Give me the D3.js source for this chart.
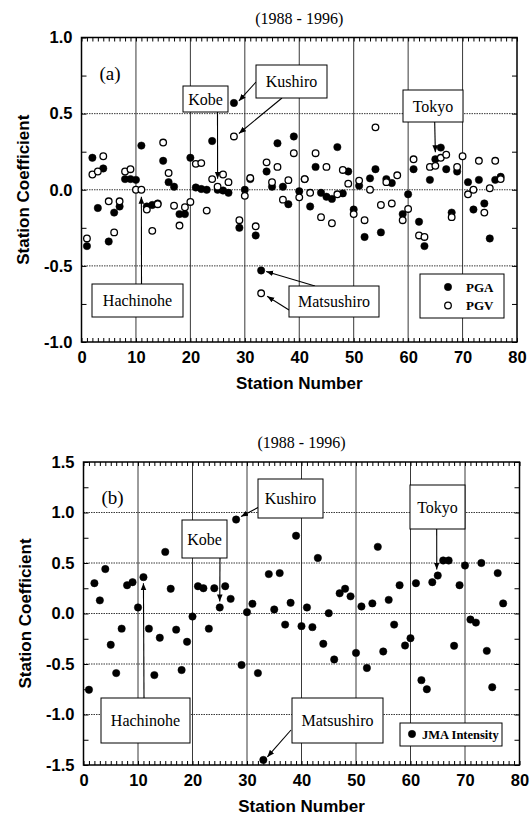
<!DOCTYPE html>
<html>
<head>
<meta charset="utf-8">
<script src="https://cdn.jsdelivr.net/npm/d3@7"></script>
<style>
  body { margin: 0; background: #fff; }
</style>
</head>
<body>
<svg id="chart" width="531" height="829"></svg>
<script>
// station numbers 1..77
const stations = d3.range(1, 78);

// panel (a) station coefficients
const pga = [-0.37, 0.21, -0.12, 0.14, -0.34, -0.15, -0.11, 0.07, 0.07, 0.065,
  0.29, -0.11, -0.10, -0.09, 0.19, 0.05, 0.02, -0.16, -0.16, 0.21,
  0.015, 0.005, 0.0, 0.32, 0.0, -0.005, -0.02, 0.57, -0.25, 0.0,
  0.07, -0.30, -0.53, 0.12, 0.02, 0.305, 0.02, -0.095, 0.35, -0.01,
  0.07, -0.11, 0.15, -0.02, -0.046, -0.06, 0.28, -0.024, 0.12, -0.13,
  0.026, -0.31, 0.075, 0.135, -0.28, 0.07, 0.044, null, -0.16, -0.03,
  0.135, -0.21, -0.37, 0.065, 0.20, 0.277, 0.135, -0.15, 0.12, null,
  0.05, -0.13, 0.065, -0.09, -0.32, 0.065, 0.085];

const pgv = [-0.32, 0.10, 0.12, 0.22, -0.076, -0.28, -0.076, 0.12, 0.135, 0.0,
  0.0, -0.13, -0.27, -0.095, 0.31, 0.11, -0.105, -0.235, -0.115, -0.08,
  0.17, 0.175, -0.137, 0.07, 0.02, 0.10, 0.05, 0.35, -0.20, -0.04,
  0.077, -0.24, -0.68, 0.18, 0.05, 0.15, -0.065, 0.063, 0.24, -0.05,
  0.07, -0.02, 0.24, -0.18, 0.15, -0.22, -0.03, 0.13, 0.04, -0.16,
  0.06, -0.20, 0.0, 0.41, -0.10, 0.05, -0.09, 0.095, -0.20, -0.126,
  0.20, -0.30, -0.31, 0.15, 0.157, 0.21, 0.23, -0.18, 0.15, 0.22,
  -0.03, 0.0, 0.19, -0.15, 0.01, 0.19, 0.07];

// panel (b) station coefficients
const jma = [-0.755, 0.30, 0.13, 0.44, -0.31, -0.59, -0.15, 0.28, 0.31, 0.06,
  0.36, -0.15, -0.61, -0.24, 0.61, 0.245, -0.16, -0.56, -0.28, -0.03,
  0.27, 0.25, -0.15, 0.25, 0.06, 0.27, 0.145, 0.93, -0.51, 0.013,
  0.096, -0.59, -1.45, 0.39, 0.04, 0.40, -0.11, 0.106, 0.77, -0.125,
  0.06, -0.135, 0.55, -0.30, 0.003, -0.455, 0.20, 0.245, 0.17, -0.39,
  0.07, -0.54, 0.10, 0.66, -0.376, 0.135, -0.11, 0.28, -0.317, -0.245,
  0.30, -0.66, -0.75, 0.31, 0.376, 0.525, 0.525, -0.32, 0.28, 0.475,
  -0.06, -0.09, 0.50, -0.37, -0.73, 0.40, 0.10];

const xTicks = [0, 10, 20, 30, 40, 50, 60, 70, 80];
const yTicksA = [-1.0, -0.5, 0.0, 0.5, 1.0];
const yTicksB = [-1.5, -1.0, -0.5, 0.0, 0.5, 1.0, 1.5];
const titleText = "(1988 - 1996)";

const svg = d3.select("#chart");
const sans = "'Liberation Sans', Arial, sans-serif";
const serif = "'Liberation Serif', 'Times New Roman', serif";

// arrowhead
svg.append("defs").append("marker")
  .attr("id", "arr")
  .attr("viewBox", "0 0 10 10")
  .attr("refX", 10).attr("refY", 5)
  .attr("markerWidth", 7).attr("markerHeight", 7)
  .attr("markerUnits", "userSpaceOnUse")
  .attr("orient", "auto")
  .append("path").attr("d", "M0,1 L10,5 L0,9 Z").attr("fill", "#000");

function drawPanel(p) {
  const x = d3.scaleLinear().domain([0, 80]).range([p.left, p.right]);
  const y = d3.scaleLinear().domain(p.yDomain).range([p.bottom, p.top]);
  const g = svg.append("g");

  // grid
  g.append("g").selectAll("line").data(xTicks.slice(1, -1)).join("line")
    .attr("x1", d => x(d)).attr("x2", d => x(d))
    .attr("y1", p.top).attr("y2", p.bottom)
    .attr("stroke", "#222").attr("stroke-width", 0.9);
  g.append("g").selectAll("line").data(p.yTicks.slice(1, -1)).join("line")
    .attr("x1", p.left).attr("x2", p.right)
    .attr("y1", d => y(d)).attr("y2", d => y(d))
    .attr("stroke", "#222").attr("stroke-width", 0.9)
    .attr("stroke-dasharray", "1.5,1");

  // minor ticks (inward), x every 1, y every 0.25
  const xMinor = d3.range(0, 81, 1);
  const yMinor = d3.range(p.yDomain[0], p.yDomain[1] + 0.001, 0.25);
  const tickStyle = sel => { sel.select(".domain").remove(); sel.selectAll("line").attr("stroke", "#000").attr("stroke-width", 1); };
  g.append("g").attr("transform", `translate(0,${p.bottom})`)
    .call(d3.axisBottom(x).tickValues(xMinor).tickFormat("").tickSize(-4)).call(tickStyle);
  g.append("g").attr("transform", `translate(0,${p.top})`)
    .call(d3.axisTop(x).tickValues(xMinor).tickFormat("").tickSize(-4)).call(tickStyle);
  g.append("g").attr("transform", `translate(${p.left},0)`)
    .call(d3.axisLeft(y).tickValues(yMinor).tickFormat("").tickSize(-5)).call(tickStyle);
  g.append("g").attr("transform", `translate(${p.right},0)`)
    .call(d3.axisRight(y).tickValues(yMinor).tickFormat("").tickSize(-5)).call(tickStyle);

  // tick labels
  const yAxis = g.append("g").attr("transform", `translate(${p.left},0)`)
    .call(d3.axisLeft(y).tickValues(p.yTicks).tickFormat(d => d.toFixed(1)).tickSize(0).tickPadding(9));
  yAxis.select(".domain").remove();
  yAxis.selectAll("text").attr("font-family", sans).attr("font-size", 16.5).attr("font-weight", "bold").attr("fill", "#000");
  const xAxis = g.append("g").attr("transform", `translate(0,${p.bottom})`)
    .call(d3.axisBottom(x).tickValues(xTicks).tickFormat(d3.format("d")).tickSize(0).tickPadding(9));
  xAxis.select(".domain").remove();
  xAxis.selectAll("text").attr("font-family", sans).attr("font-size", 16.5).attr("font-weight", "bold").attr("fill", "#000");

  // frame
  g.append("rect").attr("x", p.left).attr("y", p.top)
    .attr("width", p.right - p.left).attr("height", p.bottom - p.top)
    .attr("fill", "none").attr("stroke", "#000").attr("stroke-width", 1.5);

  // points
  p.series.forEach(s => {
    const pts = stations.map((st, i) => ({ st, v: s.values[i] })).filter(d => d.v != null);
    g.append("g").selectAll("circle").data(pts).join("circle")
      .attr("cx", d => x(d.st)).attr("cy", d => y(d.v))
      .attr("r", s.open ? 3.3 : 3.7)
      .attr("fill", s.open ? "#fff" : "#000")
      .attr("stroke", "#000").attr("stroke-width", s.open ? 1.3 : 0.5);
  });

  // titles
  g.append("text").text(titleText)
    .attr("x", (p.left + p.right) / 2).attr("y", p.top - 14)
    .attr("text-anchor", "middle").attr("font-family", serif).attr("font-size", 16);
  g.append("text").text("Station Number")
    .attr("x", (p.left + p.right) / 2).attr("y", p.bottom + 47)
    .attr("text-anchor", "middle").attr("font-family", sans).attr("font-size", 17).attr("font-weight", "bold");
  g.append("text").text("Station Coefficient")
    .attr("transform", `translate(${p.left - 53},${(p.top + p.bottom) / 2}) rotate(-90)`)
    .attr("text-anchor", "middle").attr("font-family", sans).attr("font-size", 17).attr("font-weight", "bold");
  g.append("text").text(p.label)
    .attr("x", p.left + 18).attr("y", p.top + 42)
    .attr("font-family", serif).attr("font-size", 19);

  // annotations
  p.notes.forEach(n => {
    n.arrows.forEach(a => {
      const st = a.to[0], v = p.series[a.s].values[st - 1];
      g.append("line")
        .attr("x1", a.from[0]).attr("y1", a.from[1])
        .attr("x2", x(st) + a.off[0]).attr("y2", y(v) + a.off[1])
        .attr("stroke", "#000").attr("stroke-width", 1.1)
        .attr("marker-end", "url(#arr)");
    });
    const [bx, by, bw, bh] = n.box;
    g.append("rect").attr("x", bx).attr("y", by).attr("width", bw).attr("height", bh)
      .attr("fill", "#fff").attr("stroke", "#000").attr("stroke-width", 1);
    g.append("text").text(n.text)
      .attr("x", bx + bw / 2).attr("y", by + bh / 2 + 5.5)
      .attr("text-anchor", "middle").attr("font-family", serif).attr("font-size", 16);
  });

  // legend
  const [lx, ly, lw, lh] = p.legend.box;
  g.append("rect").attr("x", lx).attr("y", ly).attr("width", lw).attr("height", lh)
    .attr("fill", "#fff").attr("stroke", "#000").attr("stroke-width", 1);
  p.series.forEach((s, i) => {
    const cy = ly + p.legend.first + i * p.legend.step;
    g.append("circle").attr("cx", lx + p.legend.mx).attr("cy", cy)
      .attr("r", s.open ? 3.3 : 3.7)
      .attr("fill", s.open ? "#fff" : "#000")
      .attr("stroke", "#000").attr("stroke-width", s.open ? 1.3 : 0.5);
    g.append("text").text(s.name)
      .attr("x", lx + p.legend.tx).attr("y", cy + 4.5)
      .attr("font-family", serif).attr("font-size", p.legend.size).attr("font-weight", "bold");
  });
}

drawPanel({
  left: 81.5, right: 517, top: 37.5, bottom: 342,
  yDomain: [-1, 1], yTicks: yTicksA, label: "(a)",
  series: [
    { name: "PGA", values: pga, open: false },
    { name: "PGV", values: pgv, open: true }
  ],
  notes: [
    { text: "Kobe", box: [183, 86, 45, 26], arrows: [{ from: [217.5, 112], to: [25], s: 1, off: [0, -8] }] },
    { text: "Kushiro", box: [256, 65, 71, 33], arrows: [
      { from: [256, 82], to: [28], s: 0, off: [5, -2] },
      { from: [282, 98], to: [28], s: 1, off: [5, -3] }] },
    { text: "Tokyo", box: [403, 90, 60, 32], arrows: [{ from: [434.7, 122], to: [65], s: 0, off: [0, -7] }] },
    { text: "Hachinohe", box: [92, 284, 91, 33], arrows: [{ from: [141.5, 284], to: [11], s: 1, off: [0, 7] }] },
    { text: "Matsushiro", box: [289, 286, 90, 31], arrows: [
      { from: [315, 286], to: [33], s: 0, off: [5, 1] },
      { from: [289, 310], to: [33], s: 1, off: [6, 3] }] }
  ],
  legend: { box: [420, 274, 84, 44], mx: 28, tx: 46, first: 13, step: 18.5, size: 13 }
});

drawPanel({
  left: 83.5, right: 519.5, top: 462, bottom: 765,
  yDomain: [-1.5, 1.5], yTicks: yTicksB, label: "(b)",
  series: [
    { name: "JMA Intensity", values: jma, open: false }
  ],
  notes: [
    { text: "Kobe", box: [182, 520, 45, 38], arrows: [{ from: [220, 558], to: [25], s: 0, off: [0, -6] }] },
    { text: "Kushiro", box: [258, 479, 65, 39], arrows: [{ from: [259, 507], to: [28], s: 0, off: [5, -3] }] },
    { text: "Tokyo", box: [410, 485, 55, 44], arrows: [{ from: [436.7, 529], to: [65], s: 0, off: [-1, -6] }] },
    { text: "Hachinohe", box: [101, 698, 89, 45], arrows: [{ from: [144, 698], to: [11], s: 0, off: [0, 6] }] },
    { text: "Matsushiro", box: [292, 698, 91, 45], arrows: [{ from: [291, 730], to: [33], s: 0, off: [4, -3] }] }
  ],
  legend: { box: [400, 723, 102, 23], mx: 12, tx: 22, first: 11, step: 0, size: 12.5 }
});
</script>
</body>
</html>
